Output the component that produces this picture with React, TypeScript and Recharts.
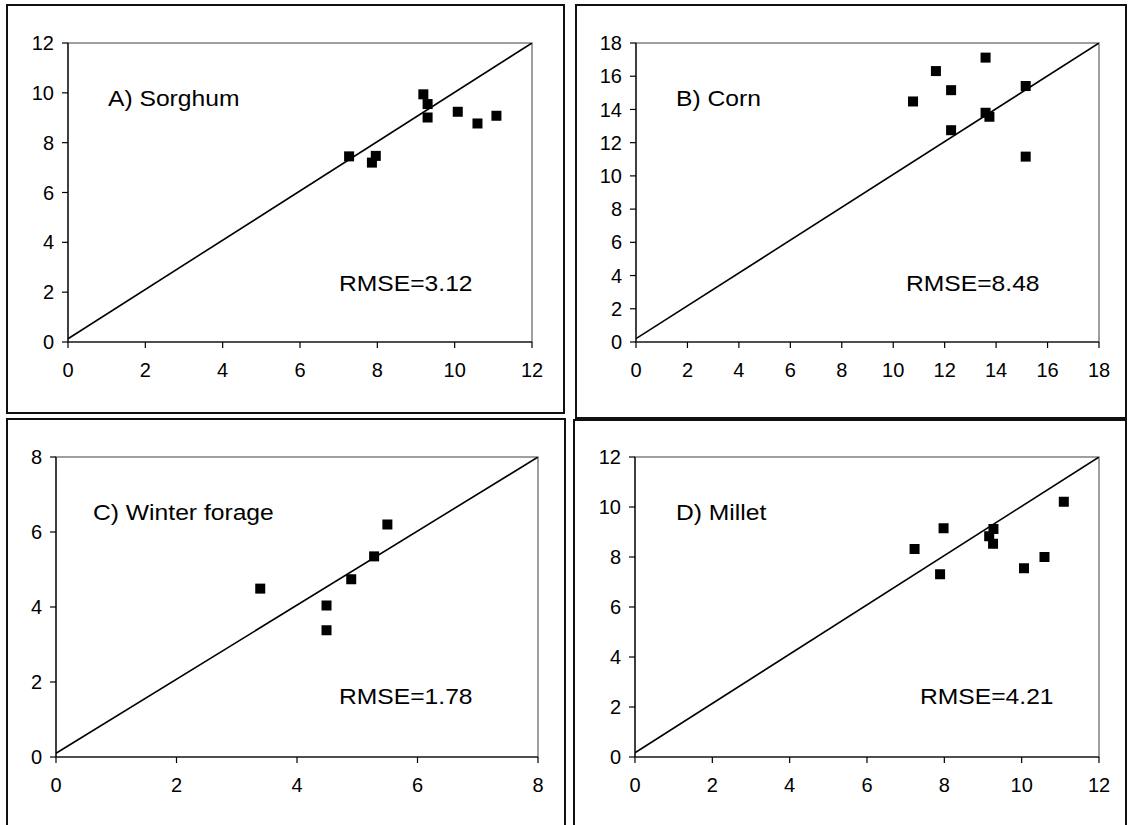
import React from "react";
import { ScatterChart, Scatter, XAxis, YAxis, ReferenceArea } from "recharts";

const FONT = '"Liberation Sans", Arial, sans-serif';

// observed (x) vs simulated (y) for each crop
const sorghumObs = [7.27, 7.86, 7.96, 9.19, 9.3, 9.3, 10.08, 10.59, 11.08];
const sorghumSim = [7.45, 7.2, 7.47, 9.94, 9.55, 9.01, 9.24, 8.77, 9.08];

const cornObs = [10.77, 11.66, 12.25, 13.59, 12.25, 13.59, 13.74, 15.15, 15.15];
const cornSim = [14.48, 16.31, 15.16, 17.12, 12.75, 13.8, 13.56, 15.41, 11.16];

const forageObs = [3.39, 4.49, 4.49, 4.9, 5.28, 5.5];
const forageSim = [4.49, 4.04, 3.38, 4.74, 5.35, 6.2];

const milletObs = [7.23, 7.98, 7.89, 9.16, 9.27, 9.26, 10.06, 10.59, 11.09];
const milletSim = [8.32, 9.15, 7.31, 8.83, 9.12, 8.53, 7.55, 8.0, 10.21];

// axis ticks
const ticks12 = [0, 2, 4, 6, 8, 10, 12];
const ticks18 = [0, 2, 4, 6, 8, 10, 12, 14, 16, 18];
const ticks8 = [0, 2, 4, 6, 8];

// 1:1 line end points (as drawn, starts a hair above zero)
const sorghumLineX = [0, 12];
const sorghumLineY = [0.13, 12];
const cornLineX = [0, 18];
const cornLineY = [0.2, 18];
const forageLineX = [0, 8];
const forageLineY = [0.1, 8];
const milletLineX = [0, 12];
const milletLineY = [0.17, 12];

const zip = (xs: number[], ys: number[]) => xs.map((x, i) => ({ x, y: ys[i] }));

type Box = { left: number; top: number; right: number; bottom: number };

type Panel = {
  title: string;
  rmse: string;
  points: { x: number; y: number }[];
  diag: { x: number; y: number }[];
  ticks: number[];
  plot: Box;
  frame: Box;
  titlePos: [number, number];
  rmsePos: [number, number];
};

const panels: Panel[] = [
  {
    title: "A) Sorghum",
    rmse: "RMSE=3.12",
    points: zip(sorghumObs, sorghumSim),
    diag: zip(sorghumLineX, sorghumLineY),
    ticks: ticks12,
    plot: { left: 68, top: 43, right: 532, bottom: 342 },
    frame: { left: 6, top: 4, right: 565, bottom: 414 },
    titlePos: [108, 107],
    rmsePos: [339, 292],
  },
  {
    title: "B) Corn",
    rmse: "RMSE=8.48",
    points: zip(cornObs, cornSim),
    diag: zip(cornLineX, cornLineY),
    ticks: ticks18,
    plot: { left: 636, top: 43, right: 1099, bottom: 342 },
    frame: { left: 575, top: 4, right: 1127, bottom: 419 },
    titlePos: [676, 107],
    rmsePos: [906, 292],
  },
  {
    title: "C) Winter forage",
    rmse: "RMSE=1.78",
    points: zip(forageObs, forageSim),
    diag: zip(forageLineX, forageLineY),
    ticks: ticks8,
    plot: { left: 56, top: 457, right: 538, bottom: 757 },
    frame: { left: 6, top: 418, right: 566, bottom: 840 },
    titlePos: [93, 521],
    rmsePos: [339, 705],
  },
  {
    title: "D) Millet",
    rmse: "RMSE=4.21",
    points: zip(milletObs, milletSim),
    diag: zip(milletLineX, milletLineY),
    ticks: ticks12,
    plot: { left: 635, top: 457, right: 1099, bottom: 757 },
    frame: { left: 573, top: 419, right: 1127, bottom: 840 },
    titlePos: [676, 521],
    rmsePos: [920, 705],
  },
];

const Y_AXIS_W = 60;
const X_AXIS_H = 40;
const PAD = 20;
const TICK_FONT = 20;

function Note({ text, pos }: { text: string; pos: [number, number] }) {
  // pos = [left, baseline]
  return (
    <div
      style={{
        position: "absolute",
        left: pos[0],
        top: pos[1] - 18.6,
        fontFamily: FONT,
        fontSize: 22,
        lineHeight: 1,
        color: "#000",
        whiteSpace: "nowrap",
        transform: "scaleX(1.12)",
        transformOrigin: "left top",
      }}
    >
      {text}
    </div>
  );
}

function PanelChart({ p }: { p: Panel }) {
  const max = p.ticks[p.ticks.length - 1];
  const w = p.plot.right - p.plot.left + Y_AXIS_W + PAD;
  const h = p.plot.bottom - p.plot.top + X_AXIS_H + PAD + 10;
  const tickStyle = { fontSize: TICK_FONT, fill: "#000", fontFamily: FONT };
  return (
    <>
      <div
        style={{
          position: "absolute",
          left: p.frame.left,
          top: p.frame.top,
          width: p.frame.right - p.frame.left,
          height: p.frame.bottom - p.frame.top,
          border: "2px solid #111",
          boxSizing: "border-box",
        }}
      />
      <div
        style={{
          position: "absolute",
          left: p.plot.left - Y_AXIS_W,
          top: p.plot.top - PAD,
          fontSize: TICK_FONT,
          fontFamily: FONT,
        }}
      >
        <ScatterChart width={w} height={h} margin={{ top: PAD, right: PAD, bottom: 10, left: 0 }}>
          <ReferenceArea x1={0} x2={max} y1={0} y2={max} fill="none" stroke="#808080" strokeWidth={1.5} />
          <XAxis
            type="number"
            dataKey="x"
            domain={[0, max]}
            ticks={p.ticks}
            height={X_AXIS_H}
            tickSize={6}
            tickMargin={15}
            tick={tickStyle}
            fontSize={TICK_FONT}
            axisLine={{ stroke: "#000", strokeWidth: 1.2 }}
            tickLine={{ stroke: "#000", strokeWidth: 1.2 }}
            allowDataOverflow
          />
          <YAxis
            type="number"
            dataKey="y"
            domain={[0, max]}
            ticks={p.ticks}
            width={Y_AXIS_W}
            tickSize={6}
            tickMargin={8}
            tick={tickStyle}
            fontSize={TICK_FONT}
            axisLine={{ stroke: "#000", strokeWidth: 1.2 }}
            tickLine={{ stroke: "#000", strokeWidth: 1.2 }}
            allowDataOverflow
          />
          <Scatter
            data={p.diag}
            line={{ stroke: "#000", strokeWidth: 1.6 }}
            shape={() => <g />}
            isAnimationActive={false}
          />
          <Scatter
            data={p.points}
            fill="#000"
            shape={(s: any) => <rect x={s.cx - 5} y={s.cy - 5} width={10} height={10} fill="#000" />}
            isAnimationActive={false}
          />
        </ScatterChart>
      </div>
      <Note text={p.title} pos={p.titlePos} />
      <Note text={p.rmse} pos={p.rmsePos} />
    </>
  );
}

export default function App() {
  return (
    <div
      style={{
        position: "absolute",
        left: 0,
        top: 0,
        width: 1128,
        height: 825,
        overflow: "hidden",
        background: "#fff",
      }}
    >
      {panels.map((p) => (
        <PanelChart key={p.title} p={p} />
      ))}
    </div>
  );
}
